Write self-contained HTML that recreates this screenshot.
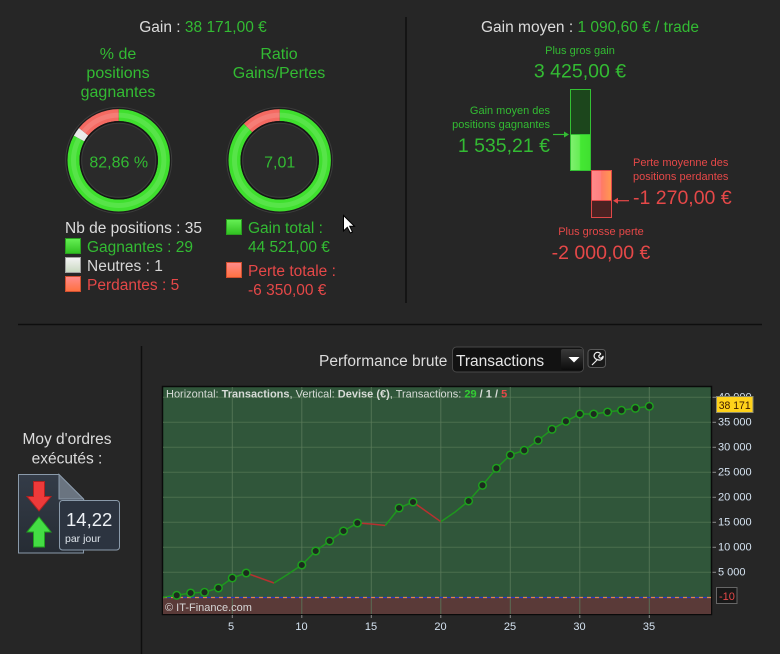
<!DOCTYPE html>
<html><head><meta charset="utf-8"><style>
html,body{margin:0;padding:0;background:#262626;}
svg{display:block;font-family:"Liberation Sans",Arial,sans-serif;}
</style></head><body>
<svg width="780" height="654" viewBox="0 0 780 654" xmlns="http://www.w3.org/2000/svg">
<defs>
<linearGradient id="gsq" x1="0" y1="0" x2="0" y2="1"><stop offset="0" stop-color="#66f055"/><stop offset="1" stop-color="#30c020"/></linearGradient>
<linearGradient id="wsq" x1="0" y1="0" x2="0" y2="1"><stop offset="0" stop-color="#f4f4f4"/><stop offset="1" stop-color="#c8d8c0"/></linearGradient>
<linearGradient id="rsq" x1="0" y1="0" x2="0" y2="1"><stop offset="0" stop-color="#ff8c8c"/><stop offset="1" stop-color="#ff7040"/></linearGradient>
<linearGradient id="gbar" x1="0" y1="0" x2="1" y2="0"><stop offset="0" stop-color="#80f070"/><stop offset="0.45" stop-color="#66ee55"/><stop offset="0.5" stop-color="#44e833"/><stop offset="1" stop-color="#40e030"/></linearGradient>
<linearGradient id="rbar" x1="0" y1="0" x2="1" y2="0"><stop offset="0" stop-color="#ff8a8a"/><stop offset="0.45" stop-color="#ff8080"/><stop offset="0.5" stop-color="#ff7a66"/><stop offset="1" stop-color="#ff9950"/></linearGradient>
<linearGradient id="btn" x1="0" y1="0" x2="0" y2="1"><stop offset="0" stop-color="#3a3a3a"/><stop offset="1" stop-color="#0c0c0c"/></linearGradient>
<linearGradient id="doc" x1="0" y1="0" x2="0" y2="1"><stop offset="0" stop-color="#343c48"/><stop offset="1" stop-color="#262c34"/></linearGradient>
<clipPath id="plot"><rect x="163" y="387" width="548" height="227"/></clipPath>
</defs>

<!-- separators -->
<line x1="406" y1="17" x2="406" y2="303" stroke="#0e0e0e" stroke-width="1.5"/>
<line x1="18" y1="324.5" x2="762" y2="324.5" stroke="#0e0e0e" stroke-width="1.5"/>
<line x1="141.5" y1="346" x2="141.5" y2="654" stroke="#0e0e0e" stroke-width="1.5"/>

<!-- ===== TOP LEFT ===== -->
<text x="203" y="32" font-size="15.5" text-anchor="middle" fill="#dcdcdc">Gain : <tspan fill="#33bb33">38 171,00 €</tspan></text>
<g font-size="16" fill="#33bb33" text-anchor="middle">
<text x="118" y="59">% de</text>
<text x="118" y="78">positions</text>
<text x="118" y="97">gagnantes</text>
<text x="279" y="59">Ratio</text>
<text x="279" y="78">Gains/Pertes</text>
</g>

<!-- donut 1 -->
<g transform="translate(118.7,160.3)">
<circle r="53" fill="#1c1c1c" stroke="#3c3c3c" stroke-width="1"/>
<g transform="rotate(-90)" fill="none" stroke-width="12">
<circle r="45.2" stroke="#3fe02e" stroke-dasharray="235.4 400"/>
<circle r="45.2" stroke="#e8e8e8" stroke-dasharray="8.1 400" stroke-dashoffset="-235.4"/>
<circle r="45.2" stroke="#f46a62" stroke-dasharray="40.6 400" stroke-dashoffset="-243.5"/>
<circle r="45.2" stroke="#ffffff" stroke-opacity="0.13" stroke-width="5"/>
</g>
<circle r="38.5" fill="#2a2a2a" stroke="#151515" stroke-width="1.5"/>
<circle r="37" fill="none" stroke="#3a3a3a" stroke-width="1"/>
<text y="7.4" font-size="16" fill="#33bb33" text-anchor="middle">82,86 %</text>
</g>

<!-- donut 2 -->
<g transform="translate(279.7,160.3)">
<circle r="53" fill="#1c1c1c" stroke="#3c3c3c" stroke-width="1"/>
<g transform="rotate(-90)" fill="none" stroke-width="12">
<circle r="45.2" stroke="#3fe02e" stroke-dasharray="248.6 400"/>
<circle r="45.2" stroke="#f46a62" stroke-dasharray="35.4 400" stroke-dashoffset="-248.6"/>
<circle r="45.2" stroke="#ffffff" stroke-opacity="0.13" stroke-width="5"/>
</g>
<circle r="38.5" fill="#2a2a2a" stroke="#151515" stroke-width="1.5"/>
<circle r="37" fill="none" stroke="#3a3a3a" stroke-width="1"/>
<text y="7.4" font-size="16" fill="#33bb33" text-anchor="middle">7,01</text>
</g>

<!-- left legend -->
<g font-size="15.5">
<text x="65" y="233" fill="#dcdcdc">Nb de positions : 35</text>
<rect x="65.5" y="238.5" width="15" height="15" fill="url(#gsq)" stroke="#2aa020"/>
<text x="87" y="252" fill="#33bb33">Gagnantes : 29</text>
<rect x="65.5" y="257.5" width="15" height="15" fill="url(#wsq)" stroke="#a0a0a0"/>
<text x="87" y="271" fill="#d6d6d6">Neutres : 1</text>
<rect x="65.5" y="276.5" width="15" height="15" fill="url(#rsq)" stroke="#d05030"/>
<text x="87" y="290" fill="#e54848">Perdantes : 5</text>

<rect x="226.5" y="219.5" width="15" height="15" fill="url(#gsq)" stroke="#2aa020"/>
<text x="248" y="233" fill="#33bb33">Gain total :</text>
<text x="248" y="252" fill="#33bb33">44 521,00 €</text>
<rect x="226.5" y="262.5" width="15" height="15" fill="url(#rsq)" stroke="#d05030"/>
<text x="248" y="276" fill="#e54848">Perte totale :</text>
<text x="248" y="295" fill="#e54848">-6 350,00 €</text>
</g>

<!-- cursor -->
<polygon points="343.5,215.5 343.5,231 347.3,227.3 350.3,233 352.5,232 349.7,226.3 354.5,226.3" fill="#ffffff" stroke="#000" stroke-width="1"/>

<!-- ===== TOP RIGHT ===== -->
<text x="590" y="32" font-size="15.5" text-anchor="middle" fill="#dcdcdc">Gain moyen : <tspan fill="#33bb33">1 090,60 € / trade</tspan></text>
<text x="580" y="54" font-size="11" text-anchor="middle" fill="#33bb33">Plus gros gain</text>
<text x="580" y="77.5" font-size="19.5" text-anchor="middle" fill="#33bb33">3 425,00 €</text>

<rect x="570.5" y="89.5" width="20" height="45" fill="#1c461c" stroke="#33c033" stroke-width="1"/>
<rect x="570.5" y="134.5" width="20" height="36" fill="url(#gbar)" stroke="#33c033" stroke-width="1"/>
<rect x="591.5" y="170.5" width="20" height="30" fill="url(#rbar)" stroke="#e04848" stroke-width="1"/>
<rect x="591.5" y="200.5" width="20" height="17" fill="#4a2222" stroke="#e04848" stroke-width="1"/>

<g font-size="11" fill="#33bb33" text-anchor="end">
<text x="550" y="114">Gain moyen des</text>
<text x="550" y="128">positions gagnantes</text>
</g>
<text x="550" y="152" font-size="19.5" text-anchor="end" fill="#33bb33">1 535,21 €</text>
<line x1="553" y1="134.5" x2="566" y2="134.5" stroke="#33bb33" stroke-width="1.2"/>
<polygon points="569,134.5 564,131.5 564,137.5" fill="#33bb33"/>

<g font-size="11" fill="#e54848">
<text x="633" y="166">Perte moyenne des</text>
<text x="633" y="180">positions perdantes</text>
</g>
<text x="633" y="204" font-size="19.5" fill="#e54848">-1 270,00 €</text>
<line x1="616" y1="200.7" x2="629" y2="200.7" stroke="#e54848" stroke-width="1.2"/>
<polygon points="613,200.7 618,197.7 618,203.7" fill="#e54848"/>

<text x="601" y="235" font-size="11" text-anchor="middle" fill="#e54848">Plus grosse perte</text>
<text x="601" y="259" font-size="19.5" text-anchor="middle" fill="#e54848">-2 000,00 €</text>

<!-- ===== BOTTOM LEFT ===== -->
<g font-size="15.5" fill="#dcdcdc" text-anchor="middle">
<text x="67" y="444">Moy d'ordres</text>
<text x="67" y="463.5">exécutés :</text>
</g>
<polygon points="18.5,474.5 59,474.5 83.5,499 83.5,553 18.5,553" fill="url(#doc)" stroke="#8a9aaa" stroke-width="1"/>
<polygon points="59,474.5 59,499 83.5,499" fill="#6a7480" stroke="#8a9aaa" stroke-width="1"/>
<polygon points="33.5,481.5 44.5,481.5 44.5,496.5 51,496.5 39,511 27,496.5 33.5,496.5" fill="#ee3a3a" stroke="#b02020" stroke-width="1"/>
<polygon points="39,517 51,532 44.5,532 44.5,547 33.5,547 33.5,532 27,532" fill="#44dd44" stroke="#20a020" stroke-width="1"/>
<rect x="59.5" y="500.5" width="60" height="49.5" rx="3" fill="#2c3440" stroke="#8a9aaa" stroke-width="1"/>
<text x="66" y="526" font-size="18.5" fill="#eef2f6">14,22</text>
<text x="65" y="542" font-size="10.5" fill="#e0e6ec">par jour</text>

<!-- ===== CHART HEADER ===== -->
<text x="319" y="366" font-size="15.5" fill="#dcdcdc">Performance brute</text>
<rect x="452.5" y="347" width="131" height="25" rx="4" fill="#121212" stroke="#484848" stroke-width="1"/>
<text x="456" y="366" font-size="15.5" fill="#e6e6e6">Transactions</text>
<rect x="561" y="349" width="22" height="21" rx="2" fill="url(#btn)"/>
<polygon points="568.5,357 579.5,357 574,362.5" fill="#ffffff"/>
<rect x="588" y="349.5" width="17.5" height="18" rx="3" fill="#1a1a1a" stroke="#5a5a5a" stroke-width="1"/>
<path d="M592,365 L597.5,359.5 M597.5,359.5 a3.6,3.6 0 1 1 3.2,-5.6 l-2,2 l0.6,1.8 l1.8,0.6 l2,-2 a3.6,3.6 0 0 1 -5.6,3.2" fill="none" stroke="#f0f0f0" stroke-width="1.2" stroke-linejoin="round"/>

<!-- ===== CHART ===== -->
<rect x="162.5" y="386.5" width="549" height="228" fill="#30563a" stroke="#0a0a0a" stroke-width="1.5"/>
<g clip-path="url(#plot)">
<rect x="163" y="597.3" width="548" height="17" fill="#5a3a38"/>
<g stroke="#4b6f4d" stroke-width="1">
<line x1="163" y1="572.3" x2="711" y2="572.3"/>
<line x1="163" y1="547.3" x2="711" y2="547.3"/>
<line x1="163" y1="522.3" x2="711" y2="522.3"/>
<line x1="163" y1="497.3" x2="711" y2="497.3"/>
<line x1="163" y1="472.3" x2="711" y2="472.3"/>
<line x1="163" y1="447.3" x2="711" y2="447.3"/>
<line x1="163" y1="422.3" x2="711" y2="422.3"/>
<line x1="163" y1="397.3" x2="711" y2="397.3"/>
</g>
<g stroke="#5a7a5a" stroke-width="1" stroke-opacity="0.8">
<line x1="232.3" y1="387" x2="232.3" y2="614"/>
<line x1="301.8" y1="387" x2="301.8" y2="614"/>
<line x1="371.3" y1="387" x2="371.3" y2="614"/>
<line x1="440.8" y1="387" x2="440.8" y2="614"/>
<line x1="510.3" y1="387" x2="510.3" y2="614"/>
<line x1="579.8" y1="387" x2="579.8" y2="614"/>
<line x1="649.3" y1="387" x2="649.3" y2="614"/>
</g>
<line x1="163" y1="597.5" x2="711" y2="597.5" stroke="#2a3ac0" stroke-width="1.2"/>
<line x1="163" y1="597.5" x2="711" y2="597.5" stroke="#e0884a" stroke-width="1.2" stroke-dasharray="4 4"/>

<g fill="none" stroke-width="1.5" stroke-linejoin="round">
<polyline stroke="#1e961e" points="162.8,597.3 176.7,595.3 190.6,593 204.5,592.3 218.4,588 232.3,578 246.2,573"/>
<polyline stroke="#b83030" points="246.2,573 274,583"/>
<polyline stroke="#1e961e" points="274,583 287.9,574.3 301.8,565 315.7,551 329.6,541 343.5,531 357.4,523"/>
<polyline stroke="#b83030" points="357.4,523 371.3,524 385.2,525.5"/>
<polyline stroke="#1e961e" points="385.2,525.5 399.1,508 413,502"/>
<polyline stroke="#b83030" points="413,502 440.8,521.7"/>
<polyline stroke="#1e961e" points="440.8,521.7 454.7,512.3 468.6,501 482.5,485.3 496.4,468.3 510.3,455 524.2,450.3 538.1,440.3 552,429.3 565.9,421.3 579.8,414 593.7,414 607.6,412 621.5,410.3 635.4,408.3 649.3,406.3"/>
</g>
<g fill="#1c2a1e" stroke="#1ea01e" stroke-width="1.5">
<circle cx="176.7" cy="595.3" r="3.8"/><circle cx="190.6" cy="593" r="3.8"/><circle cx="204.5" cy="592.3" r="3.8"/><circle cx="218.4" cy="588" r="3.8"/><circle cx="232.3" cy="578" r="3.8"/><circle cx="246.2" cy="573" r="3.8"/>
<circle cx="301.8" cy="565" r="3.8"/><circle cx="315.7" cy="551" r="3.8"/><circle cx="329.6" cy="541" r="3.8"/><circle cx="343.5" cy="531" r="3.8"/><circle cx="357.4" cy="523" r="3.8"/>
<circle cx="399.1" cy="508" r="3.8"/><circle cx="413" cy="502" r="3.8"/>
<circle cx="468.6" cy="501" r="3.8"/><circle cx="482.5" cy="485.3" r="3.8"/><circle cx="496.4" cy="468.3" r="3.8"/><circle cx="510.3" cy="455" r="3.8"/><circle cx="524.2" cy="450.3" r="3.8"/><circle cx="538.1" cy="440.3" r="3.8"/><circle cx="552" cy="429.3" r="3.8"/><circle cx="565.9" cy="421.3" r="3.8"/><circle cx="579.8" cy="414" r="3.8"/><circle cx="593.7" cy="414" r="3.8"/><circle cx="607.6" cy="412" r="3.8"/><circle cx="621.5" cy="410.3" r="3.8"/><circle cx="635.4" cy="408.3" r="3.8"/><circle cx="649.3" cy="406.3" r="3.8"/>
</g>
<text x="166" y="397.5" font-size="11" fill="#d8dcd8">Horizontal: <tspan font-weight="bold">Transactions</tspan>, Vertical: <tspan font-weight="bold">Devise (€)</tspan>, Transactions: <tspan font-weight="bold" fill="#33cc33">29</tspan><tspan font-weight="bold"> / 1 / </tspan><tspan font-weight="bold" fill="#e54848">5</tspan></text>
<text x="165" y="611" font-size="11" fill="#d8d8d8">© IT-Finance.com</text>
</g>

<!-- axis ticks -->
<g stroke="#8a8a8a" stroke-width="1">
<line x1="712.5" y1="572.3" x2="716" y2="572.3"/><line x1="712.5" y1="547.3" x2="716" y2="547.3"/><line x1="712.5" y1="522.3" x2="716" y2="522.3"/><line x1="712.5" y1="497.3" x2="716" y2="497.3"/><line x1="712.5" y1="472.3" x2="716" y2="472.3"/><line x1="712.5" y1="447.3" x2="716" y2="447.3"/><line x1="712.5" y1="422.3" x2="716" y2="422.3"/><line x1="712.5" y1="397.3" x2="716" y2="397.3"/>
<line x1="232.3" y1="615" x2="232.3" y2="618"/><line x1="301.8" y1="615" x2="301.8" y2="618"/><line x1="371.3" y1="615" x2="371.3" y2="618"/><line x1="440.8" y1="615" x2="440.8" y2="618"/><line x1="510.3" y1="615" x2="510.3" y2="618"/><line x1="579.8" y1="615" x2="579.8" y2="618"/><line x1="649.3" y1="615" x2="649.3" y2="618"/>
</g>
<g font-size="11" fill="#d4e2f0">
<text x="718" y="575.5">5 000</text>
<text x="718" y="550.5">10 000</text>
<text x="718" y="525.5">15 000</text>
<text x="718" y="500.5">20 000</text>
<text x="718" y="475.5">25 000</text>
<text x="718" y="450.5">30 000</text>
<text x="718" y="425.5">35 000</text>
<text x="718" y="400.5">40 000</text>
</g>
<g font-size="11" fill="#d4e2f0" text-anchor="middle">
<text x="231" y="630">5</text>
<text x="301.5" y="630">10</text>
<text x="371" y="630">15</text>
<text x="440.5" y="630">20</text>
<text x="510" y="630">25</text>
<text x="579.5" y="630">30</text>
<text x="649" y="630">35</text>
</g>
<rect x="716.5" y="396.5" width="36.5" height="16" fill="#ffd21a" stroke="#8a8a70" stroke-width="1"/>
<text x="734.7" y="408.8" font-size="11" text-anchor="middle" textLength="32" lengthAdjust="spacingAndGlyphs" fill="#3a1800">38 171</text>
<rect x="716.5" y="587.5" width="20.5" height="16" fill="#181818" stroke="#666" stroke-width="1"/>
<text x="719" y="600" font-size="11" fill="#e54848">-10</text>
</svg>
</body></html>
